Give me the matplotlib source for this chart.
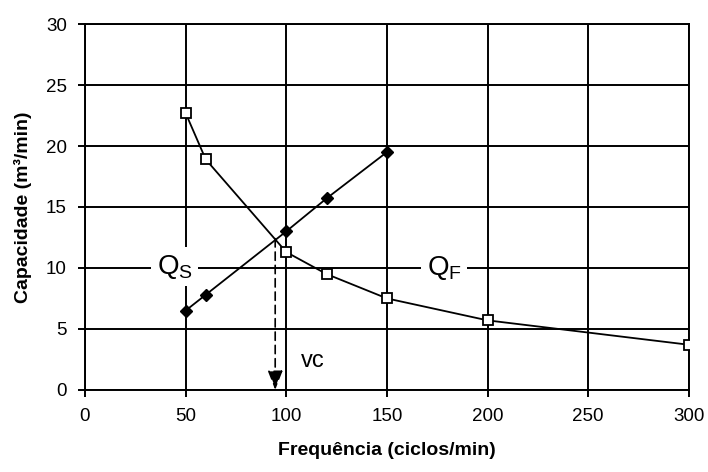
import matplotlib.pyplot as plt

plt.rcParams.update({
    "font.family": ["Liberation Sans", "DejaVu Sans"],
    "mathtext.fontset": "custom",
    "mathtext.rm": "Liberation Sans",
    "mathtext.it": "Liberation Sans",
})

# supply curve (open squares) and flow curve (filled diamonds)
freq_s = [50, 60, 100, 120, 150, 200, 300]
cap_s = [22.7, 18.9, 11.3, 9.5, 7.5, 5.7, 3.7]
freq_f = [50, 60, 100, 120, 150]
cap_f = [6.5, 7.8, 13.0, 15.7, 19.5]
vc_x, vc_y = 94.5, 12.4

fig = plt.figure(figsize=(7.08, 4.72), dpi=100)
ax = fig.add_axes([0.12, 0.174, 0.853, 0.775])

ax.set_xlim(0, 300)
ax.set_ylim(0, 30)
ax.set_xticks(range(0, 301, 50))
ax.set_yticks(range(0, 31, 5))
ax.grid(True, color="black", linewidth=1.4)
ax.set_axisbelow(True)
for s in ax.spines.values():
    s.set_linewidth(1.4)
ax.tick_params(direction="out", length=5, width=1.4, labelsize=13.5, pad=8)

ax.plot(freq_s, cap_s, color="black", linewidth=1.3, marker="s", markersize=7.5,
        markerfacecolor="white", markeredgecolor="black", markeredgewidth=1.3,
        zorder=4)
ax.plot(freq_f, cap_f, color="black", linewidth=1.3, marker="D", markersize=6,
        markerfacecolor="black", markeredgecolor="black", zorder=4)

ax.annotate("", xy=(vc_x, 0), xytext=(vc_x, vc_y),
            arrowprops=dict(arrowstyle="-|>,head_length=0.9,head_width=0.35",
                            linestyle=(0, (5, 3)), color="black", linewidth=1.2,
                            shrinkA=0, shrinkB=0, mutation_scale=13), zorder=3)

box = dict(facecolor="white", edgecolor="none", pad=4)
ax.text(44.5, 10.1, r"$\mathregular{Q_S}$", fontsize=20, ha="center", va="center",
        bbox=box, zorder=3)
ax.text(178.5, 10.0, r"$\mathregular{Q_F}$", fontsize=20, ha="center", va="center",
        bbox=box, zorder=3)
ax.text(113, 2.4, "vc", fontsize=17, ha="center", va="center", zorder=3)

ax.set_xlabel("Frequência (ciclos/min)", fontsize=14, fontweight="bold", labelpad=12)
ax.set_ylabel("Capacidade (m³/min)", fontsize=14, fontweight="bold", labelpad=10)

fig.savefig("out.png", dpi=100, facecolor="white")
